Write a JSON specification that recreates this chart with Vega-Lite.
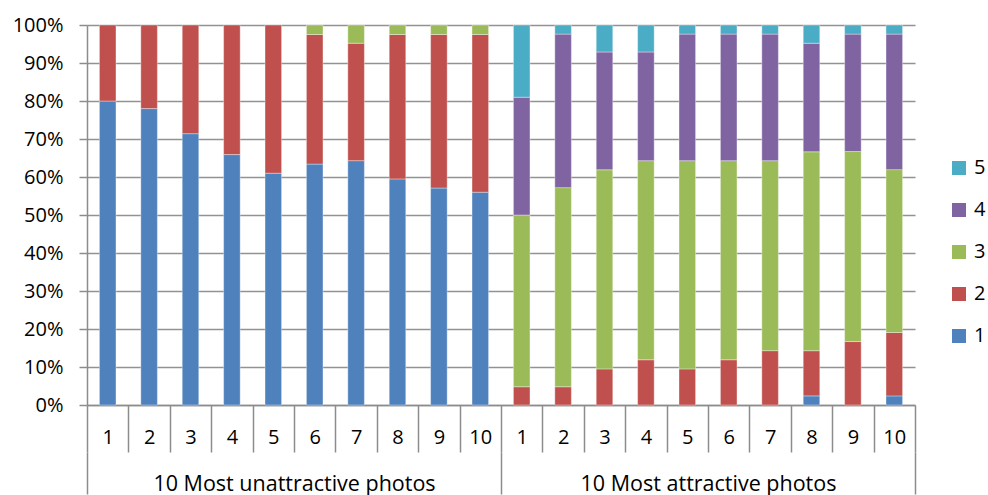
{
  "$schema": "https://vega.github.io/schema/vega-lite/v6.json",
  "autosize": {"type": "none"},
  "padding": {"left": 87, "top": 25, "right": 73, "bottom": 90},
  "width": 828,
  "height": 380,
  "background": "white",
  "config": {
    "view": {"stroke": null},
    "font": "Open Sans, sans-serif",
    "legend": {"labelFont": "Open Sans, sans-serif"}
  },
  "data": {
    "values": [
      {"idx": 1, "group": "10 Most unattractive photos", "rating": "1", "pct": 80},
      {"idx": 1, "group": "10 Most unattractive photos", "rating": "2", "pct": 20},
      {"idx": 2, "group": "10 Most unattractive photos", "rating": "1", "pct": 78},
      {"idx": 2, "group": "10 Most unattractive photos", "rating": "2", "pct": 22},
      {"idx": 3, "group": "10 Most unattractive photos", "rating": "1", "pct": 71.4},
      {"idx": 3, "group": "10 Most unattractive photos", "rating": "2", "pct": 28.6},
      {"idx": 4, "group": "10 Most unattractive photos", "rating": "1", "pct": 65.9},
      {"idx": 4, "group": "10 Most unattractive photos", "rating": "2", "pct": 34.1},
      {"idx": 5, "group": "10 Most unattractive photos", "rating": "1", "pct": 61},
      {"idx": 5, "group": "10 Most unattractive photos", "rating": "2", "pct": 39},
      {"idx": 6, "group": "10 Most unattractive photos", "rating": "1", "pct": 63.4},
      {"idx": 6, "group": "10 Most unattractive photos", "rating": "2", "pct": 34.1},
      {"idx": 6, "group": "10 Most unattractive photos", "rating": "3", "pct": 2.5},
      {"idx": 7, "group": "10 Most unattractive photos", "rating": "1", "pct": 64.3},
      {"idx": 7, "group": "10 Most unattractive photos", "rating": "2", "pct": 30.9},
      {"idx": 7, "group": "10 Most unattractive photos", "rating": "3", "pct": 4.8},
      {"idx": 8, "group": "10 Most unattractive photos", "rating": "1", "pct": 59.5},
      {"idx": 8, "group": "10 Most unattractive photos", "rating": "2", "pct": 38},
      {"idx": 8, "group": "10 Most unattractive photos", "rating": "3", "pct": 2.5},
      {"idx": 9, "group": "10 Most unattractive photos", "rating": "1", "pct": 57.1},
      {"idx": 9, "group": "10 Most unattractive photos", "rating": "2", "pct": 40.4},
      {"idx": 9, "group": "10 Most unattractive photos", "rating": "3", "pct": 2.5},
      {"idx": 10, "group": "10 Most unattractive photos", "rating": "1", "pct": 56},
      {"idx": 10, "group": "10 Most unattractive photos", "rating": "2", "pct": 41.5},
      {"idx": 10, "group": "10 Most unattractive photos", "rating": "3", "pct": 2.5},
      {"idx": 11, "group": "10 Most attractive photos", "rating": "2", "pct": 4.8},
      {"idx": 11, "group": "10 Most attractive photos", "rating": "3", "pct": 45.2},
      {"idx": 11, "group": "10 Most attractive photos", "rating": "4", "pct": 31},
      {"idx": 11, "group": "10 Most attractive photos", "rating": "5", "pct": 19},
      {"idx": 12, "group": "10 Most attractive photos", "rating": "2", "pct": 4.8},
      {"idx": 12, "group": "10 Most attractive photos", "rating": "3", "pct": 52.4},
      {"idx": 12, "group": "10 Most attractive photos", "rating": "4", "pct": 40.4},
      {"idx": 12, "group": "10 Most attractive photos", "rating": "5", "pct": 2.4},
      {"idx": 13, "group": "10 Most attractive photos", "rating": "2", "pct": 9.5},
      {"idx": 13, "group": "10 Most attractive photos", "rating": "3", "pct": 52.4},
      {"idx": 13, "group": "10 Most attractive photos", "rating": "4", "pct": 31},
      {"idx": 13, "group": "10 Most attractive photos", "rating": "5", "pct": 7.1},
      {"idx": 14, "group": "10 Most attractive photos", "rating": "2", "pct": 11.9},
      {"idx": 14, "group": "10 Most attractive photos", "rating": "3", "pct": 52.4},
      {"idx": 14, "group": "10 Most attractive photos", "rating": "4", "pct": 28.6},
      {"idx": 14, "group": "10 Most attractive photos", "rating": "5", "pct": 7.1},
      {"idx": 15, "group": "10 Most attractive photos", "rating": "2", "pct": 9.5},
      {"idx": 15, "group": "10 Most attractive photos", "rating": "3", "pct": 54.8},
      {"idx": 15, "group": "10 Most attractive photos", "rating": "4", "pct": 33.3},
      {"idx": 15, "group": "10 Most attractive photos", "rating": "5", "pct": 2.4},
      {"idx": 16, "group": "10 Most attractive photos", "rating": "2", "pct": 11.9},
      {"idx": 16, "group": "10 Most attractive photos", "rating": "3", "pct": 52.4},
      {"idx": 16, "group": "10 Most attractive photos", "rating": "4", "pct": 33.3},
      {"idx": 16, "group": "10 Most attractive photos", "rating": "5", "pct": 2.4},
      {"idx": 17, "group": "10 Most attractive photos", "rating": "2", "pct": 14.3},
      {"idx": 17, "group": "10 Most attractive photos", "rating": "3", "pct": 50},
      {"idx": 17, "group": "10 Most attractive photos", "rating": "4", "pct": 33.3},
      {"idx": 17, "group": "10 Most attractive photos", "rating": "5", "pct": 2.4},
      {"idx": 18, "group": "10 Most attractive photos", "rating": "1", "pct": 2.4},
      {"idx": 18, "group": "10 Most attractive photos", "rating": "2", "pct": 11.9},
      {"idx": 18, "group": "10 Most attractive photos", "rating": "3", "pct": 52.4},
      {"idx": 18, "group": "10 Most attractive photos", "rating": "4", "pct": 28.6},
      {"idx": 18, "group": "10 Most attractive photos", "rating": "5", "pct": 4.8},
      {"idx": 19, "group": "10 Most attractive photos", "rating": "2", "pct": 16.7},
      {"idx": 19, "group": "10 Most attractive photos", "rating": "3", "pct": 50},
      {"idx": 19, "group": "10 Most attractive photos", "rating": "4", "pct": 30.9},
      {"idx": 19, "group": "10 Most attractive photos", "rating": "5", "pct": 2.4},
      {"idx": 20, "group": "10 Most attractive photos", "rating": "1", "pct": 2.4},
      {"idx": 20, "group": "10 Most attractive photos", "rating": "2", "pct": 16.7},
      {"idx": 20, "group": "10 Most attractive photos", "rating": "3", "pct": 42.9},
      {"idx": 20, "group": "10 Most attractive photos", "rating": "4", "pct": 35.7},
      {"idx": 20, "group": "10 Most attractive photos", "rating": "5", "pct": 2.4}
    ]
  },
  "layer": [
    {
      "mark": {"type": "bar", "width": {"band": 0.4}, "stroke": "#ffffff", "strokeOpacity": 0.35, "strokeWidth": 1},
      "encoding": {
        "x": {
          "field": "idx", "type": "ordinal",
          "scale": {"paddingInner": 0, "paddingOuter": 0},
          "axis": {
            "title": null, "tickBand": "extent", "tickSize": 47, "tickColor": "#8c8c8c", "tickWidth": 1.5,
            "domainColor": "#8c8c8c", "domainWidth": 1.5,
            "labelAngle": 0, "labelBaseline": "middle", "labelPadding": -15,
            "labelFont": "Open Sans, sans-serif", "labelFontSize": 20, "labelColor": "#000000",
            "labelExpr": "datum.value > 10 ? datum.value - 10 : datum.value"
          }
        },
        "y": {
          "field": "pct", "type": "quantitative", "aggregate": "sum", "stack": "normalize",
          "scale": {"domain": [0, 1], "nice": false},
          "axis": {
            "title": null, "format": ".0%", "values": [0, 0.1, 0.2, 0.3, 0.4, 0.5, 0.6, 0.7, 0.8, 0.9, 1],
            "grid": true, "gridColor": "#929292", "gridWidth": 1.5,
            "domainColor": "#8c8c8c", "domainWidth": 1.5,
            "tickSize": 8, "tickColor": "#8c8c8c", "tickWidth": 1.5, "labelPadding": 16,
            "labelFont": "Open Sans, sans-serif", "labelFontSize": 20, "labelColor": "#000000"
          }
        },
        "color": {
          "field": "rating", "type": "nominal",
          "scale": {"domain": ["1", "2", "3", "4", "5"], "range": ["#4F81BD", "#C0504D", "#9BBB59", "#8064A2", "#4BACC6"]},
          "legend": {
            "title": null, "orient": "none", "legendX": 862, "legendY": 133,
            "values": ["5", "4", "3", "2", "1"],
            "symbolType": "square", "symbolSize": 196, "symbolStrokeWidth": 0,
            "labelFont": "Open Sans, sans-serif", "labelFontSize": 20, "labelColor": "#000000", "labelOffset": 5, "rowPadding": 22
          }
        },
        "order": {"field": "rating", "type": "ordinal", "sort": "ascending"}
      }
    },
    {
      "mark": {"type": "bar", "opacity": 0},
      "encoding": {
        "x": {
          "field": "group", "type": "nominal",
          "sort": ["10 Most unattractive photos", "10 Most attractive photos"],
          "scale": {"paddingInner": 0, "paddingOuter": 0},
          "axis": {
            "title": null, "orient": "bottom", "offset": 47, "domain": false,
            "tickBand": "extent", "tickSize": 42, "tickColor": "#8c8c8c", "tickWidth": 1.5,
            "labelAngle": 0, "labelBaseline": "middle", "labelPadding": -10, "labelLimit": 0,
            "labelFont": "Open Sans, sans-serif", "labelFontSize": 21.5, "labelColor": "#000000"
          }
        }
      }
    }
  ],
  "resolve": {"scale": {"x": "independent"}, "axis": {"x": "independent"}}
}
